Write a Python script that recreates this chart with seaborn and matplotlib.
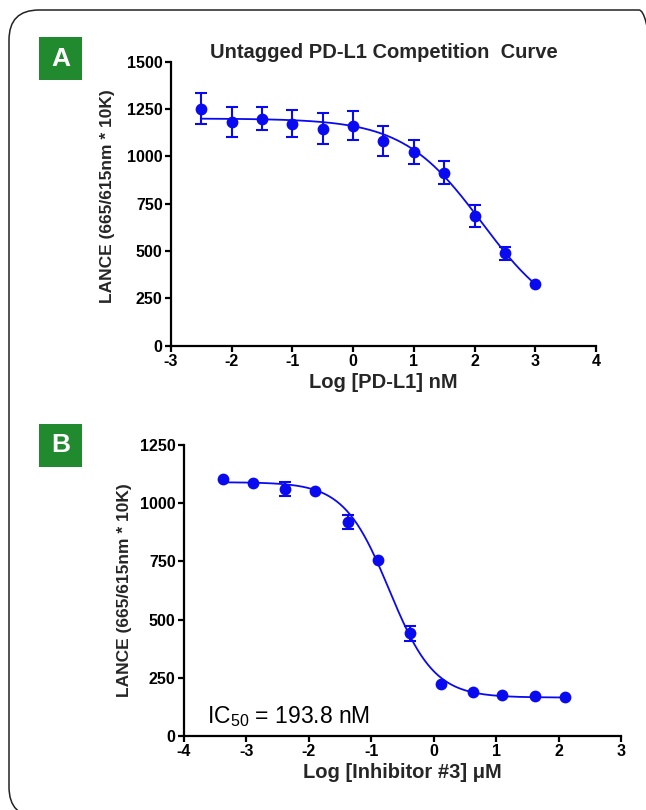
import numpy as np
import pandas as pd
import matplotlib
matplotlib.use("Agg")
import matplotlib.pyplot as plt
import seaborn as sns
from matplotlib.patches import FancyBboxPatch, Rectangle

# -----------------------------
# Data
# -----------------------------
# Panel A: untagged PD-L1 competition
log_pdl1 = [-2.5, -2.0, -1.5, -1.0, -0.5, 0.0, 0.5, 1.0, 1.5, 2.0, 2.5, 3.0]
lance_a = [1252, 1183, 1199, 1173, 1146, 1162, 1081, 1025, 914, 685, 488, 326]
err_a = [81, 79, 62, 72, 83, 78, 77, 64, 60, 56, 33, 0]

# 4PL fit for panel A
fit_a = {"top": 1200, "bottom": 100, "log_ic50": 2.12, "hill": 0.67}

# Panel B: inhibitor #3
log_inhib = [-3.37, -2.90, -2.38, -1.90, -1.37, -0.90, -0.38, 0.11, 0.63, 1.10, 1.63, 2.11]
lance_b = [1105, 1085, 1061, 1050, 921, 755, 441, 223, 188, 175, 170, 168]
err_b = [0, 0, 31, 0, 30, 0, 31, 0, 0, 0, 0, 0]

# 4PL fit for panel B (IC50 = 193.8 nM)
ic50_um = 0.1938
fit_b = {"top": 1090, "bottom": 165, "log_ic50": np.log10(ic50_um), "hill": 1.2}

blue = "#0a0af0"
green = "#228a2e"


def four_pl(x, p):
    return p["bottom"] + (p["top"] - p["bottom"]) / (1 + 10 ** ((x - p["log_ic50"]) * p["hill"]))


sns.set_theme(style="ticks")
plt.rcParams["font.family"] = ["Liberation Sans", "DejaVu Sans"]
plt.rcParams["mathtext.fontset"] = "custom"
plt.rcParams["mathtext.rm"] = "Liberation Sans"
plt.rcParams["axes.unicode_minus"] = False

fig = plt.figure(figsize=(6.46, 8.10), dpi=100)
ax_a = fig.add_axes([0.2647, 0.5732, 0.6579, 0.3506])
ax_b = fig.add_axes([0.2848, 0.0914, 0.6765, 0.3593])

panels = [
    (ax_a, log_pdl1, lance_a, err_a, fit_a),
    (ax_b, log_inhib, lance_b, err_b, fit_b),
]

for ax, xs, ys, es, fit in panels:
    df = pd.DataFrame({"x": xs, "y": ys, "err": es})
    xx = np.linspace(min(xs), max(xs), 300)
    curve = pd.DataFrame({"x": xx, "y": four_pl(xx, fit)})
    sns.lineplot(data=curve, x="x", y="y", ax=ax, color=blue, lw=1.3)
    # error bars hidden behind the marker are not drawn (as in Prism)
    eb = df[df["err"] > 0]
    ax.errorbar(eb["x"], eb["y"], yerr=eb["err"], fmt="none", ecolor=blue,
                elinewidth=1.5, capsize=4.5, capthick=1.5, zorder=3)
    sns.scatterplot(data=df, x="x", y="y", ax=ax, color=blue, s=72,
                    edgecolor=blue, linewidth=0, zorder=4)
    sns.despine(ax=ax)
    for side in ["left", "bottom"]:
        ax.spines[side].set_linewidth(1.6)
        ax.spines[side].set_color("black")
    ax.tick_params(direction="out", length=4, width=1.6, colors="black",
                   labelsize=11.5, pad=2)
    for lab in ax.get_xticklabels() + ax.get_yticklabels():
        lab.set_fontweight("bold")

# Panel A axes
ax_a.set_xlim(-3, 4)
ax_a.set_ylim(0, 1500)
ax_a.set_xticks(range(-3, 5))
ax_a.set_yticks(range(0, 1501, 250))
ax_a.set_xlabel("Log [PD-L1] nM", fontsize=14.5, fontweight="bold", labelpad=3)
ax_a.set_ylabel("LANCE (665/615nm * 10K)", fontsize=12.5, fontweight="bold", labelpad=6)
ax_a.yaxis.set_label_coords(-0.132, 0.525)
ax_a.set_title("Untagged PD-L1 Competition  Curve", fontsize=14.5,
               fontweight="bold", pad=3)

# Panel B axes
ax_b.set_xlim(-4, 3)
ax_b.set_ylim(0, 1250)
ax_b.set_xticks(range(-4, 4))
ax_b.set_yticks(range(0, 1251, 250))
ax_b.set_xlabel("Log [Inhibitor #3] \u03bcM", fontsize=14.5, fontweight="bold", labelpad=3)
ax_b.set_ylabel("LANCE (665/615nm * 10K)", fontsize=12.5, fontweight="bold", labelpad=6)
ax_b.text(-3.63, 56, r"IC$_{\mathrm{50}}$ = 193.8 nM", fontsize=16.5,
          va="baseline", ha="left", color="black")

# panel letters
for label, y0 in [("A", 0.9012), ("B", 0.4235)]:
    fig.patches.append(Rectangle((0.0604, y0), 0.0666, 0.0531, transform=fig.transFigure,
                                 facecolor=green, edgecolor="none"))
    fig.text(0.0604 + 0.0333, y0 + 0.0265, label, color="white", fontsize=19,
             fontweight="bold", ha="center", va="center")

# rounded outer frame in inches: only the top-right corner peeks into the picture
frame = FancyBboxPatch((0.09, -0.07), 6.60, 8.07, boxstyle="round,pad=0,rounding_size=0.30",
                       transform=fig.dpi_scale_trans, facecolor="none",
                       edgecolor="#222222", linewidth=1.1)
fig.patches.append(frame)

fig.savefig("out.png", dpi=100)
